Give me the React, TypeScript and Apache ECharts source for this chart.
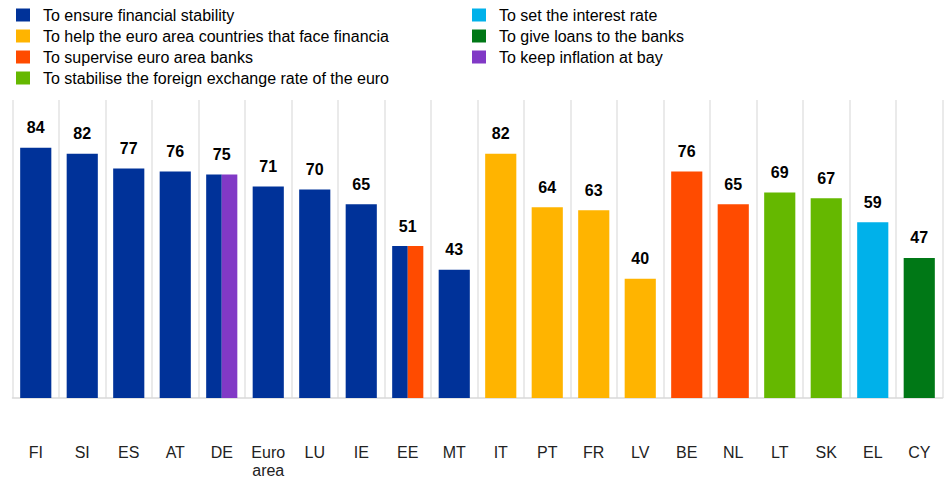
import React, { useEffect, useRef } from "react";
import * as echarts from "echarts";

const categories = ["FI", "SI", "ES", "AT", "DE", "Euro\narea", "LU", "IE", "EE", "MT", "IT", "PT", "FR", "LV", "BE", "NL", "LT", "SK", "EL", "CY"];
const values = [84, 82, 77, 76, 75, 71, 70, 65, 51, 43, 82, 64, 63, 40, 76, 65, 69, 67, 59, 47];
// which answer(s) each country bar belongs to (index into seriesNames)
const answerGroups: number[][] = [[0], [0], [0], [0], [0, 6], [0], [0], [0], [0, 2], [0], [1], [1], [1], [1], [2], [2], [3], [3], [4], [5]];
const seriesNames = [
  "To ensure financial stability",
  "To help the euro area countries that face financia",
  "To supervise euro area banks",
  "To stabilise the foreign exchange rate of the euro",
  "To set the interest rate",
  "To give loans to the banks",
  "To keep inflation at bay",
];
const seriesColors = ["#003299", "#FFB400", "#FF4B00", "#65B800", "#00B1EA", "#007816", "#8139C6"];

const FONT = "'Liberation Sans', Arial, Helvetica, sans-serif";

export default function App() {
  const ref = useRef<HTMLDivElement>(null);
  useEffect(() => {
    if (!ref.current) return;
    document.body.style.margin = "0";
    const chart = echarts.init(ref.current, undefined, { renderer: "svg" });

    const barSeries = seriesNames.map((name, si) => {
      const data: number[][] = [];
      answerGroups.forEach((g, ci) => {
        const part = g.indexOf(si);
        if (part >= 0) data.push([ci, values[ci], part, g.length]);
      });
      return {
        type: "custom",
        name,
        itemStyle: { color: seriesColors[si] },
        encode: { x: 0, y: 1 },
        data,
        renderItem: (params: any, api: any) => {
          const ci = api.value(0);
          const v = api.value(1);
          const part = api.value(2);
          const n = api.value(3);
          const base = api.coord([ci, 0]);
          const top = api.coord([ci, v]);
          const bw = api.size([1, 0])[0] * 0.67;
          const w = bw / n;
          const x = base[0] - bw / 2 + part * w;
          return {
            type: "rect",
            shape: { x, y: top[1], width: w, height: base[1] - top[1] },
            style: { fill: seriesColors[si] },
          };
        },
      };
    });

    const labelSeries = {
      type: "custom",
      name: "labels",
      encode: { x: 0, y: 1 },
      data: values.map((v, i) => [i, v]),
      renderItem: (params: any, api: any) => {
        const p = api.coord([api.value(0), api.value(1)]);
        return {
          type: "text",
          style: {
            text: String(api.value(1)),
            x: p[0],
            y: p[1] - 20,
            align: "center",
            verticalAlign: "middle",
            fill: "#000",
            font: `bold 16px ${FONT}`,
          },
        };
      },
    };

    const legendCommon = {
      orient: "vertical",
      icon: "rect",
      itemWidth: 14,
      itemHeight: 13,
      itemGap: 5,
      selectedMode: false,
      padding: 0,
      textStyle: {
        fontSize: 16,
        fontFamily: FONT,
        color: "#000",
        lineHeight: 15,
        padding: [0, 0, 0, 8],
      },
    };

    chart.setOption({
      animation: false,
      legend: [
        { ...legendCommon, left: 16, top: 7, data: seriesNames.slice(0, 4) },
        { ...legendCommon, left: 472, top: 7, data: seriesNames.slice(4) },
      ],
      grid: { left: 12.5, right: 1.5, top: 100, bottom: 81, containLabel: false },
      xAxis: {
        type: "category",
        data: categories,
        boundaryGap: true,
        axisTick: { show: false },
        axisLine: { lineStyle: { color: "#d9d9d9", width: 1.5 } },
        splitLine: { show: true, lineStyle: { color: "#e3e3e3", width: 1.5 } },
        axisLabel: {
          interval: 0,
          margin: 45,
          fontSize: 16,
          lineHeight: 18,
          color: "#222",
          fontFamily: FONT,
        },
      },
      yAxis: { type: "value", min: 0, max: 100, show: false, splitLine: { show: false } },
      series: [...barSeries, labelSeries],
    });
    return () => chart.dispose();
  }, []);
  return <div ref={ref} style={{ width: 944, height: 479 }} />;
}
